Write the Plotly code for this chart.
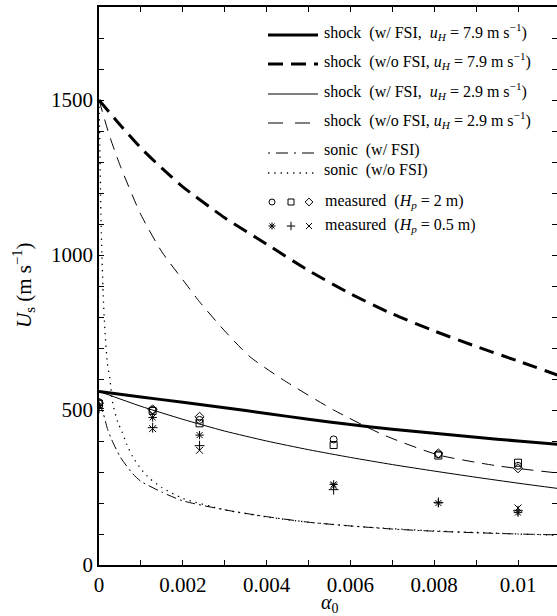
import plotly.graph_objects as go

# ---------------- data ----------------
# shock speed, with FSI, u_H = 7.9 m/s
a_s79_fsi = [0, 0.001, 0.002, 0.003, 0.004, 0.005, 0.006, 0.007, 0.008, 0.009, 0.010, 0.011]
u_s79_fsi = [560, 542, 525, 507, 489, 470, 453, 438, 425, 412, 400, 389]

# shock speed, without FSI, u_H = 7.9 m/s
a_s79_nofsi = [0, 0.0005, 0.001, 0.0015, 0.002, 0.003, 0.004, 0.005, 0.006, 0.007, 0.008, 0.009, 0.010, 0.011]
u_s79_nofsi = [1500, 1420, 1345, 1280, 1220, 1120, 1035, 950, 875, 810, 755, 705, 658, 610]

# shock speed, with FSI, u_H = 2.9 m/s
a_s29_fsi = [0, 0.001, 0.002, 0.003, 0.004, 0.005, 0.006, 0.007, 0.008, 0.009, 0.010, 0.011]
u_s29_fsi = [560, 512, 470, 432, 400, 372, 347, 324, 303, 283, 264, 246]

# shock speed, without FSI, u_H = 2.9 m/s
a_s29_nofsi = [0, 0.00025, 0.0005, 0.001, 0.0015, 0.002, 0.0024, 0.003, 0.0036, 0.0044, 0.0056, 0.0068, 0.0081, 0.0095, 0.011]
u_s29_nofsi = [1500, 1385, 1290, 1130, 1010, 920, 849, 755, 672, 597, 500, 419, 355, 320, 296]

# sonic speed, with FSI
a_c_fsi = [0, 0.0001, 0.0002, 0.0003, 0.0005, 0.0008, 0.001, 0.0015, 0.002, 0.003, 0.004, 0.005, 0.006, 0.007, 0.008, 0.009, 0.010, 0.011]
u_c_fsi = [525, 490, 440, 405, 350, 295, 270, 235, 207, 178, 156, 138, 126, 116, 109, 104, 100, 97]

# sonic speed, without FSI
a_c_nofsi = [0, 0.00002, 0.00005, 0.0001, 0.00014, 0.0002, 0.00026, 0.00033, 0.00045, 0.00055, 0.00066,
             0.0008, 0.001, 0.0012, 0.0015, 0.002, 0.003, 0.004, 0.005, 0.006, 0.007, 0.008, 0.009, 0.010, 0.011]
u_c_nofsi = [1500, 1350, 1100, 870, 760, 650, 600, 520, 460, 430, 390,
             350, 310, 280, 250, 215, 178, 155, 138, 126, 117, 110, 105, 100, 96]

# measured, H_p = 2 m
a_m2_circ = [0, 0.00128, 0.0024, 0.0056, 0.0081, 0.0100]
u_m2_circ = [525, 500, 468, 405, 357, 320]
a_m2_sq = [0, 0.00128, 0.0024, 0.0056, 0.0081, 0.0100]
u_m2_sq = [520, 497, 457, 387, 353, 330]
a_m2_dia = [0, 0.00128, 0.0024, 0.0081, 0.0100]
u_m2_dia = [522, 502, 478, 360, 312]

# measured, H_p = 0.5 m
a_m05_ast = [0, 0.00128, 0.0024, 0.0056, 0.0081, 0.0100]
u_m05_ast = [515, 476, 419, 260, 200, 169]
a_m05_plus = [0, 0.00128, 0.0024, 0.0056, 0.0081, 0.0100]
u_m05_plus = [505, 443, 385, 243, 202, 175]
a_m05_x = [0.00128, 0.0024, 0.0056, 0.0100]
u_m05_x = [440, 370, 255, 184]

# axis ticks
x_tickvals = [i * 0.001 for i in range(12)]
x_ticktext = ["0", "", "0.002", "", "0.004", "", "0.006", "", "0.008", "", "0.01", ""]
y_tickvals = list(range(0, 1801, 100))
y_ticktext = [str(v) if v in (0, 500, 1000, 1500) else "" for v in y_tickvals]

# ---------------- figure ----------------
FONT = "'Liberation Serif', 'Times New Roman', Times, serif"
W, H = 557, 616
L, T, B = 99, 7, 51
X_MAX = (W - L) / 41900.0  # plot area ends at the figure's right edge

fig = go.Figure()

def curve(x, y, width, dash, name):
    fig.add_trace(go.Scatter(x=x, y=y, mode="lines", name=name, showlegend=False,
                             line=dict(color="black", width=width, dash=dash, shape="spline", smoothing=0.6)))

curve(a_s79_fsi, u_s79_fsi, 3, "solid", "shock w/ FSI 7.9")
curve(a_s79_nofsi, u_s79_nofsi, 3, "15px,8px", "shock w/o FSI 7.9")
curve(a_s29_fsi, u_s29_fsi, 1, "solid", "shock w/ FSI 2.9")
curve(a_s29_nofsi, u_s29_nofsi, 1, "12px,8px", "shock w/o FSI 2.9")
curve(a_c_fsi, u_c_fsi, 1, "10px,4px,2px,4px", "sonic w/ FSI")
curve(a_c_nofsi, u_c_nofsi, 1.3, "1.3px,5px", "sonic w/o FSI")

def points(x, y, symbol, name):
    fig.add_trace(go.Scatter(x=x, y=y, mode="markers", name=name, showlegend=False,
                             marker=dict(symbol=symbol, size=7, color="black",
                                         line=dict(color="black", width=1))))

points(a_m2_circ, u_m2_circ, "circle-open", "Hp=2 circle")
points(a_m2_sq, u_m2_sq, "square-open", "Hp=2 square")
points(a_m2_dia, u_m2_dia, "diamond-open", "Hp=2 diamond")
points(a_m05_ast, u_m05_ast, "asterisk-open", "Hp=0.5 asterisk")
points(a_m05_plus, u_m05_plus, "cross-thin-open", "Hp=0.5 plus")
points(a_m05_x, u_m05_x, "x-thin-open", "Hp=0.5 x")

# right-hand tick marks (no spine), on an overlaying axis
fig.add_trace(go.Scatter(x=[None], y=[None], yaxis="y2", showlegend=False, hoverinfo="skip"))

# ---------------- legend (drawn in pixel coordinates on overlay axes) ----------------
lx0, lx1 = 268, 318
leg_lines = [
    (35, 3, "solid", "shock\u00a0\u00a0(w/ FSI,\u00a0\u00a0<i>u</i><sub><i>H</i></sub> = 7.9 m s<sup>\u22121</sup>)"),
    (64, 3, "15px,8px", "shock\u00a0\u00a0(w/o FSI, <i>u</i><sub><i>H</i></sub> = 7.9 m s<sup>\u22121</sup>)"),
    (94, 1, "solid", "shock\u00a0\u00a0(w/ FSI,\u00a0\u00a0<i>u</i><sub><i>H</i></sub> = 2.9 m s<sup>\u22121</sup>)"),
    (123, 1, "15px,12px", "shock\u00a0\u00a0(w/o FSI, <i>u</i><sub><i>H</i></sub> = 2.9 m s<sup>\u22121</sup>)"),
    (153, 1, "2px,6px,12px,6px", "sonic\u00a0\u00a0(w/ FSI)"),
    (173, 1.3, "1.3px,5px", "sonic\u00a0\u00a0(w/o FSI)"),
]
for yy, w, d, txt in leg_lines:
    fig.add_trace(go.Scatter(x=[lx0, lx1], y=[yy, yy], xaxis="x2", yaxis="y3", mode="lines",
                             showlegend=False, hoverinfo="skip",
                             line=dict(color="black", width=w, dash=d)))
    fig.add_annotation(x=322, y=yy - 3, xref="x2", yref="y3", text=txt, showarrow=False,
                       xanchor="left", yanchor="middle", font=dict(family=FONT, size=16, color="black"))

leg_marks = [
    (202, ["circle-open", "square-open", "diamond-open"],
     "measured\u00a0\u00a0(<i>H</i><sub><i>p</i></sub> = 2 m)"),
    (226, ["asterisk-open", "cross-thin-open", "x-thin-open"],
     "measured\u00a0\u00a0(<i>H</i><sub><i>p</i></sub> = 0.5 m)"),
]
for yy, syms, txt in leg_marks:
    fig.add_trace(go.Scatter(x=[272, 291, 309], y=[yy, yy, yy], xaxis="x2", yaxis="y3", mode="markers",
                             showlegend=False, hoverinfo="skip",
                             marker=dict(symbol=syms, size=6, color="black",
                                         line=dict(color="black", width=1))))
    fig.add_annotation(x=323, y=yy - 1, xref="x2", yref="y3", text=txt, showarrow=False,
                       xanchor="left", yanchor="middle", font=dict(family=FONT, size=16, color="black"))

# ---------------- axis titles ----------------
fig.add_annotation(x=(23 - L) / (W - L), y=(565 - 285) / (565 - T), xref="paper", yref="paper",
                   text="<i>U</i><sub>s</sub> (m s<sup>\u22121</sup>)", textangle=-90, showarrow=False,
                   xanchor="center", yanchor="middle", font=dict(family=FONT, size=21, color="black"))
fig.add_annotation(x=(330 - L) / (W - L), y=(565 - 603) / (565 - T), xref="paper", yref="paper",
                   text="<i>\u03b1</i><sub>0</sub>", showarrow=False,
                   xanchor="center", yanchor="middle", font=dict(family=FONT, size=20, color="black"))

tickfont = dict(family=FONT, size=21, color="black")
fig.update_layout(
    width=W, height=H,
    margin=dict(l=L, r=0, t=T, b=B, pad=0),
    paper_bgcolor="white", plot_bgcolor="white",
    showlegend=False,
    font=dict(family=FONT, color="black"),
    xaxis=dict(range=[0, X_MAX], tickmode="array", tickvals=x_tickvals, ticktext=x_ticktext,
               ticks="inside", ticklen=5, tickwidth=1, tickcolor="black",
               showline=True, linecolor="black", linewidth=1.5, mirror="ticks",
               ticklabelstandoff=0,
               showgrid=False, zeroline=False, tickfont=tickfont, automargin=False),
    yaxis=dict(range=[0, 1800], tickmode="array", tickvals=y_tickvals, ticktext=y_ticktext,
               ticks="inside", ticklen=5, tickwidth=1, tickcolor="black",
               showline=True, linecolor="black", linewidth=1.5, mirror=False,
               showgrid=False, zeroline=False, tickfont=tickfont, automargin=False),
    yaxis2=dict(range=[0, 1800], overlaying="y", side="right", anchor="x",
                tickmode="array", tickvals=y_tickvals, ticktext=[""] * len(y_tickvals),
                ticks="inside", ticklen=5, tickwidth=1, tickcolor="black",
                showline=False, showgrid=False, zeroline=False, automargin=False),
    xaxis2=dict(range=[L, W], overlaying="x", visible=False, automargin=False),
    yaxis3=dict(range=[565, T], overlaying="y", visible=False, automargin=False),
)

fig.write_html("out.html")
